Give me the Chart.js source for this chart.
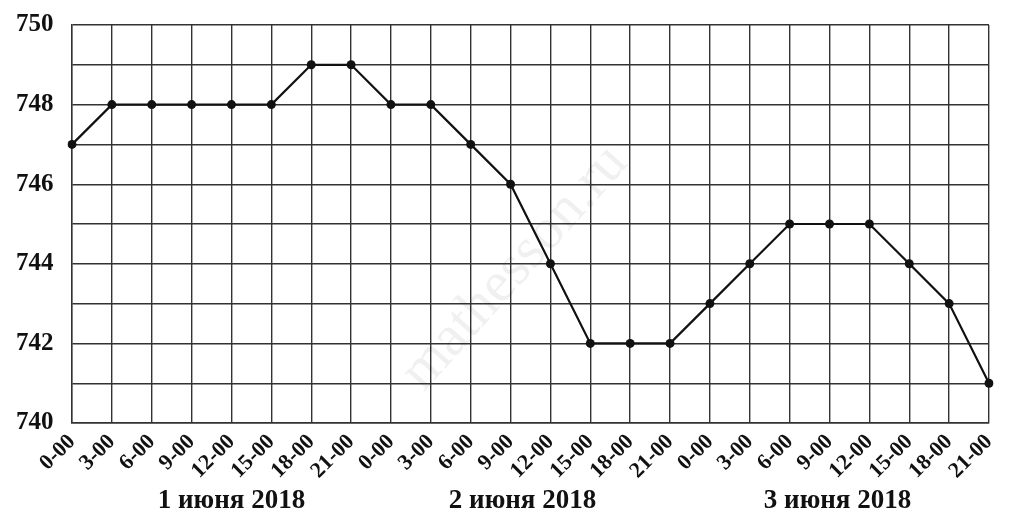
<!DOCTYPE html>
<html>
<head>
<meta charset="utf-8">
<script src="https://cdn.jsdelivr.net/npm/chart.js@4"></script>
<style>
  html, body { margin: 0; padding: 0; background: #fff; }
  canvas { display: block; }
</style>
</head>
<body>
<canvas id="chart" width="1024" height="524"></canvas>
<script>
/* Atmospheric pressure, 1–3 June 2018 */

var hours      = ['0-00', '3-00', '6-00', '9-00', '12-00', '15-00', '18-00', '21-00'];
var days       = ['1 июня 2018', '2 июня 2018', '3 июня 2018'];
var pressure   = [747, 748, 748, 748, 748, 748, 749, 749,
                  748, 748, 747, 746, 744, 742, 742, 742,
                  743, 744, 745, 745, 745, 744, 743, 741];
var yTickMarks = [740, 742, 744, 746, 748, 750];

var labels = days.reduce(function (acc) { return acc.concat(hours); }, []);

// where each day caption sits, in category index units
var DAY_CENTERS = [4, 11.3, 19.2];
var SERIF = '"Liberation Serif", "DejaVu Serif", serif';

var dayCaptions = {
  id: 'dayCaptions',
  afterDraw: function (chart) {
    var ctx = chart.ctx, x = chart.scales.x;
    var step = x.getPixelForTick(1) - x.getPixelForTick(0);
    ctx.save();
    ctx.font = 'bold 27px ' + SERIF;
    ctx.fillStyle = '#111';
    ctx.textAlign = 'center';
    ctx.textBaseline = 'middle';
    days.forEach(function (d, i) {
      ctx.fillText(d, x.getPixelForTick(0) + DAY_CENTERS[i] * step, 501);
    });
    ctx.restore();
  }
};

var watermark = {
  id: 'watermark',
  beforeDatasetsDraw: function (chart) {
    var ctx = chart.ctx;
    ctx.save();
    ctx.translate(515, 268);
    ctx.rotate(-48 * Math.PI / 180);
    ctx.font = '58px ' + SERIF;
    ctx.fillStyle = 'rgba(0,0,0,0.06)';
    ctx.textAlign = 'center';
    ctx.textBaseline = 'middle';
    ctx.fillText('mathesson.ru', 0, 0);
    ctx.restore();
  }
};

new Chart(document.getElementById('chart'), {
  type: 'line',
  data: {
    labels: labels,
    datasets: [{
      data: pressure,
      borderColor: '#111',
      borderWidth: 2.2,
      pointRadius: 4.5,
      pointBackgroundColor: '#111',
      pointBorderWidth: 0,
      tension: 0,
    }],
  },
  options: {
    responsive: false,
    animation: false,
    layout: { padding: { top: 25, right: 35, left: 16, bottom: 0 } },
    plugins: { legend: { display: false }, tooltip: { enabled: false } },
    scales: {
      x: {
        offset: false,
        afterFit: function (s) { s.height = 101; },
        grid: { color: '#333', lineWidth: 1.4, drawTicks: false },
        border: { color: '#333', width: 1.4 },
        ticks: {
          autoSkip: false,
          minRotation: 45,
          maxRotation: 45,
          padding: 6,
          color: '#111',
          font: { family: SERIF, size: 22, weight: 'bold' },
        },
      },
      y: {
        min: 740,
        max: 750,
        afterFit: function (s) { s.width = 56; },
        grid: { color: '#333', lineWidth: 1.4, drawTicks: false },
        border: { color: '#333', width: 1.4 },
        ticks: {
          stepSize: 1,
          padding: 10,
          crossAlign: 'far',
          color: '#111',
          font: { family: SERIF, size: 25, weight: 'bold' },
          callback: function (v) { return yTickMarks.indexOf(v) >= 0 ? v : ''; },
        },
      },
    },
  },
  plugins: [watermark, dayCaptions],
});
</script>
</body>
</html>
